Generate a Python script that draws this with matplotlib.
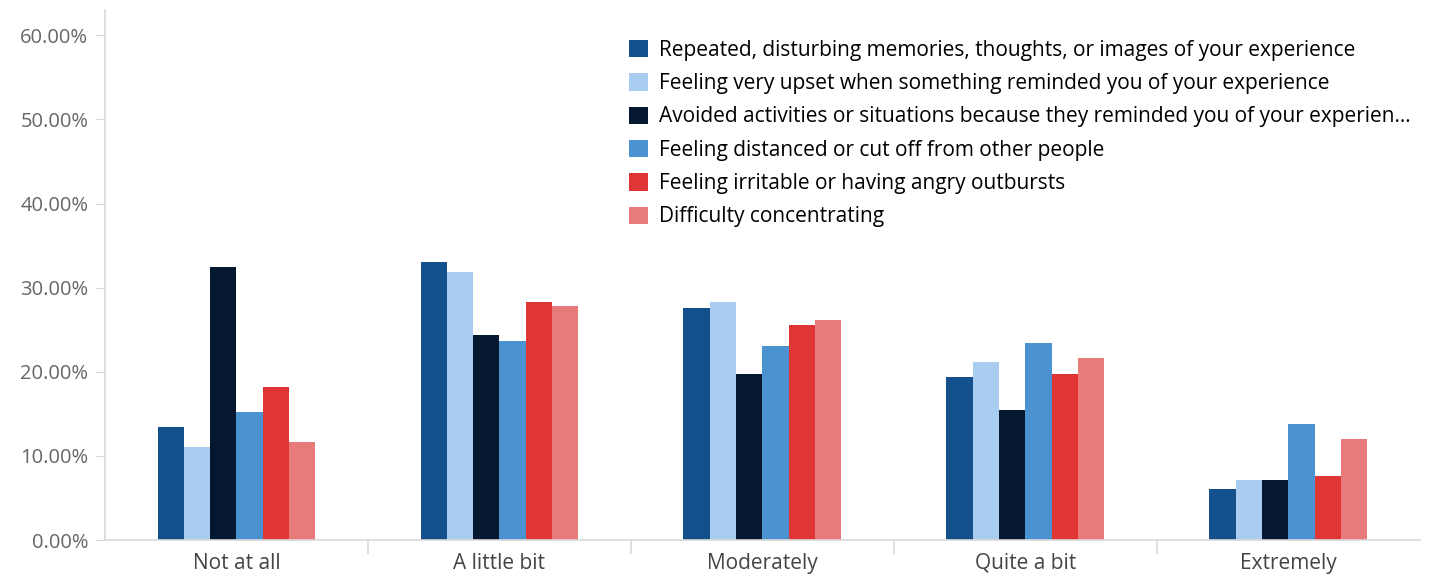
import matplotlib
matplotlib.use("Agg")
import matplotlib.pyplot as plt
from matplotlib.patches import Patch
import numpy as np

# Dados do gráfico
categorias = ["Not at all", "A little bit", "Moderately", "Quite a bit", "Extremely"]
series = [
    "Repeated, disturbing memories, thoughts, or images of your experience",
    "Feeling very upset when something reminded you of your experience",
    "Avoided activities or situations because they reminded you of your experien...",
    "Feeling distanced or cut off from other people",
    "Feeling irritable or having angry outbursts",
    "Difficulty concentrating",
]
valores = [
    [13.4, 33.0, 27.6, 19.4, 6.1],
    [11.0, 31.8, 28.3, 21.2, 7.1],
    [32.5, 24.4, 19.7, 15.5, 7.1],
    [15.2, 23.6, 23.1, 23.4, 13.8],
    [18.2, 28.3, 25.6, 19.7, 7.6],
    [11.7, 27.8, 26.1, 21.6, 12.0],
]
cores = ["#14508c", "#a8cdf0", "#041830", "#4a93d0", "#e03535", "#e97a7a"]
yticks = [0, 10, 20, 30, 40, 50, 60]

plt.rcParams["font.family"] = ["Open Sans", "DejaVu Sans"]

fig = plt.figure(figsize=(14.29, 5.78), dpi=100)
ax = fig.add_axes([0.0735, 0.0657, 0.92, 0.917])

x = np.arange(len(categorias))
largura = 0.1
for i, (nome, vals, cor) in enumerate(zip(series, valores, cores)):
    ax.bar(x + (i - 2.5) * largura, vals, largura, color=cor, label=nome)

ax.set_xlim(-0.5, len(categorias) - 0.5)
ax.set_ylim(0, 63)
ax.set_yticks(yticks)
ax.set_yticklabels([f"{v:.2f}%" for v in yticks])
ax.set_xticks(x)
ax.set_xticklabels(categorias)
ax.set_xticks(np.arange(0.5, len(categorias) - 0.5), minor=True)

for lado in ["top", "right"]:
    ax.spines[lado].set_visible(False)
for lado in ["left", "bottom"]:
    ax.spines[lado].set_color("#d9d9d9")
    ax.spines[lado].set_linewidth(1.2)

ax.tick_params(axis="y", length=7, color="#d9d9d9", labelsize=14.5, labelcolor="#666666", pad=5)
ax.tick_params(axis="x", which="major", length=0, labelsize=15, labelcolor="#444444", pad=9)
ax.tick_params(axis="x", which="minor", length=10, color="#d9d9d9", width=1.2)

handles = [Patch(facecolor=c, edgecolor="none") for c in cores]
fig.legend(handles, series, loc="upper left", bbox_to_anchor=(0.440, 0.931),
           frameon=False, fontsize=15, handlelength=0.9, handleheight=0.9,
           handletextpad=0.55, labelspacing=0.59, borderaxespad=0, borderpad=0)

fig.savefig("out.png", dpi=100)
